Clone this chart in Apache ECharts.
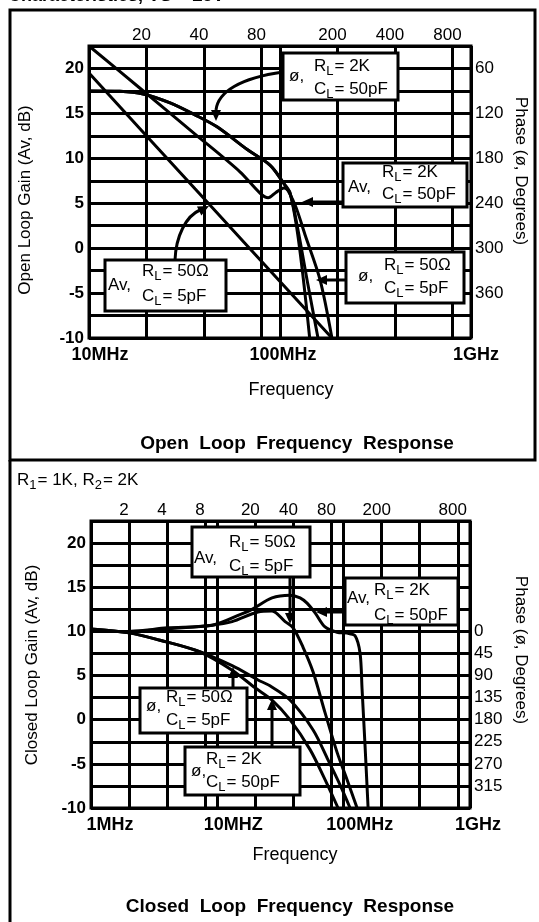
<!DOCTYPE html>
<html>
<head>
<meta charset="utf-8">
<script src="https://cdn.jsdelivr.net/npm/echarts@6/dist/echarts.min.js"></script>
<style>
html,body{margin:0;padding:0;background:#fff;}
#chart{width:539px;height:922px;}
</style>
</head>
<body>
<div id="chart"></div>
<script>
// open loop response (MHz, dB, degrees)
var olFreqAv2k = [10, 18.5, 35.9, 61.7, 78.8, 86.7, 95.2, 104.9, 112.5, 122.9, 133.6, 143];
var olAv2k     = [22.5, 17.8, 12.7, 8.5, 6.1, 5.6, 6.2, 6.7, 6.2, 2.0, -4.1, -10];
var olFreqAv50 = [10, 35.9, 187];
var olAv50     = [19.5, 6.6, -10];
var olFreqPh2k = [10, 14.5, 19.2, 26.6, 35.9, 46.8, 68.0, 88.6, 103.7, 112.5, 124.3, 140.1, 158.1];
var olPh2k     = [90, 90.5, 94, 106, 122, 138, 169, 189, 212, 225, 276, 349, 420];
var olFreqPh50 = [10, 14.5, 19.2, 26.6, 35.9, 46.8, 68.0, 88.6, 103.7, 119.8, 135.2, 162, 187];
var olPh50     = [90, 90.5, 94, 106, 122, 138, 169, 189, 212, 242, 282, 342, 420];

// closed loop response, R1=1K R2=2K
var clFreqAv2k = [1, 2, 4, 9.1, 15.1, 18.8, 27.1, 37.6, 45.2, 51.3, 59.4, 71.2, 88.7, 106.4, 123.1, 134.9, 139.8, 147.7, 156.1];
var clAv2k     = [10.0, 10.0, 10.4, 10.7, 11.9, 12.5, 13.8, 14.1, 13.8, 13.2, 12.1, 10.5, 9.9, 9.8, 9.5, 7.5, 3.5, -3, -10];
var clFreqAv50 = [1, 2, 4, 9.1, 13.1, 21.0, 27.1, 34.4, 39.8, 47.7, 57.3, 71.2, 88.7, 106.4, 127.7];
var clAv50     = [10.0, 10.0, 10.3, 10.7, 11.1, 12.2, 12.3, 11.1, 10.4, 8.2, 5.4, 0.8, -3.7, -6.8, -10];
var clFreqPh50 = [1, 2, 3.52, 6.66, 13.1, 21.0, 26.1, 37.6, 57.3, 75.2, 93.6, 112.4];
var clPh50     = [-5, 3, 18, 38, 70, 99, 111, 140, 201, 262, 313, 360];
var clFreqPh2k = [1, 2, 3.52, 7.3, 13.1, 19.9, 27.1, 37.6, 54.2, 71.2, 90.3];
var clPh2k     = [-5, 3, 18, 42, 79, 115, 140, 180, 241, 302, 360];

// grid / tick values
var olGridFreq  = [10, 20, 40, 80, 100, 200, 400, 800, 1000];
var olTopLabels = [20, 40, 80, 200, 400, 800];
var olBotLabels = [10, 100, 1000];
var clGridFreq  = [1, 2, 4, 8, 10, 20, 40, 80, 100, 200, 400, 800, 1000];
var clTopLabels = [2, 4, 8, 20, 40, 80, 200, 800];
var clBotLabels = [1, 10, 100, 1000];

var font = '"Liberation Sans", Arial, Helvetica, sans-serif';

function pairs(xs, ys) {
    var out = [];
    for (var i = 0; i < xs.length; i++) {
        out.push([xs[i], ys[i]]);
    }
    return out;
}

function curve(name, xi, yi, xs, ys) {
    return {
        name: name, type: 'line', xAxisIndex: xi, yAxisIndex: yi,
        data: pairs(xs, ys), showSymbol: false, smooth: 0.3, silent: true,
        lineStyle: {color: '#000', width: 3}, z: 5
    };
}

function freqAxis(gi, pos, min, max, gridVals, labelVals, fmt, rich, size, weight, margin) {
    return {
        type: 'log', logBase: 10, gridIndex: gi, position: pos, min: min, max: max,
        axisLine: {show: false},
        axisTick: {show: false, customValues: gridVals},
        minorTick: {show: false},
        splitLine: {show: pos === 'bottom', lineStyle: {color: '#000', width: 3}},
        axisLabel: {
            customValues: labelVals, formatter: fmt, rich: rich, margin: margin,
            color: '#000', fontFamily: font, fontSize: size, fontWeight: weight
        }
    };
}

function padRich(list, size, weight) {
    var r = {};
    for (var i = 0; i < list.length; i++) {
        r[list[i][0]] = {padding: list[i][1], fontSize: size, fontWeight: weight, color: '#000', fontFamily: font};
    }
    return r;
}

function gainAxis(gi) {
    return {
        type: 'value', gridIndex: gi, position: 'left', min: -10, max: 22.5, interval: 2.5,
        axisLine: {show: false}, axisTick: {show: false},
        splitLine: {show: true, lineStyle: {color: '#000', width: 3}},
        axisLabel: {
            formatter: function (v) { return (v % 5 === 0 && v <= 20) ? String(v) : ''; },
            color: '#000', fontFamily: font, fontSize: 17, fontWeight: 'bold', margin: 5
        }
    };
}

function phaseAxis(gi, min, max, step, lo, hi, every) {
    return {
        type: 'value', gridIndex: gi, position: 'right', inverse: true, min: min, max: max, interval: step,
        axisLine: {show: false}, axisTick: {show: false}, splitLine: {show: false},
        axisLabel: {
            formatter: function (v) { return (v % every === 0 && v >= lo && v <= hi) ? String(v) : ''; },
            color: '#000', fontFamily: font, fontSize: 17, margin: 4
        }
    };
}

// ---- annotations ----
var subRich = {
    n: {fontSize: 17, fontFamily: font, fill: '#000'},
    s: {fontSize: 13, fontFamily: font, fill: '#000', padding: [10, 1, 0, 0]}
};

function txt(x, y, text, size, opt) {
    opt = opt || {};
    return {
        type: 'text', x: x, y: y, rotation: opt.rot || 0, z: 100,
        style: {
            text: text, fill: '#000', font: (opt.bold ? 'bold ' : '') + size + 'px ' + font,
            align: opt.align || 'left', verticalAlign: 'middle',
            textAlign: opt.align || 'left', textVerticalAlign: 'middle', rich: opt.rich
        }
    };
}

function box(b) {
    return [
        {type: 'rect', z: 99, shape: {x: b.x, y: b.y, width: b.w, height: b.h},
            style: {fill: '#fff', stroke: '#000', lineWidth: 3}},
        txt(b.lx, b.ly, b.lead, 17),
        txt(b.tx, b.ry, '{n|R}{s|L}{n|' + b.r + '}', 17, {rich: subRich}),
        txt(b.tx, b.cy, '{n|C}{s|L}{n|' + b.c + '}', 17, {rich: subRich})
    ];
}

function head(x, y, dx, dy) {
    var len = Math.sqrt(dx * dx + dy * dy);
    dx /= len; dy /= len;
    var L = 11, W = 5;
    return {
        type: 'polygon', z: 101,
        shape: {points: [[x, y], [x - L * dx - W * dy, y - L * dy + W * dx], [x - L * dx + W * dy, y - L * dy - W * dx]]},
        style: {fill: '#000'}
    };
}

function seg(x1, y1, x2, y2) {
    return {type: 'line', z: 100, shape: {x1: x1, y1: y1, x2: x2, y2: y2}, style: {stroke: '#000', lineWidth: 3}};
}

function bez(x1, y1, c1x, c1y, c2x, c2y, x2, y2) {
    return {type: 'bezierCurve', z: 100,
        shape: {x1: x1, y1: y1, cpx1: c1x, cpy1: c1y, cpx2: c2x, cpy2: c2y, x2: x2, y2: y2},
        style: {stroke: '#000', lineWidth: 3, fill: null}};
}

var boxes = [
    {x: 283, y: 53, w: 115, h: 47, lead: 'ø,', lx: 289, ly: 76, r: '= 2K', c: '= 50pF', tx: 314, ry: 66, cy: 89},
    {x: 343, y: 163, w: 124, h: 44, lead: 'Av,', lx: 348, ly: 187, r: '= 2K', c: '= 50pF', tx: 382, ry: 172, cy: 194},
    {x: 105, y: 260, w: 121, h: 51, lead: 'Av,', lx: 108, ly: 285, r: '= 50Ω', c: '= 5pF', tx: 142, ry: 271, cy: 296},
    {x: 346, y: 252, w: 118, h: 51, lead: 'ø,', lx: 358, ly: 276, r: '= 50Ω', c: '= 5pF', tx: 384, ry: 265, cy: 288},
    {x: 192, y: 527, w: 118, h: 50, lead: 'Av,', lx: 194, ly: 558, r: '= 50Ω', c: '= 5pF', tx: 229, ry: 542, cy: 566},
    {x: 345, y: 578, w: 113, h: 47, lead: 'Av,', lx: 347, ly: 598, r: '= 2K', c: '= 50pF', tx: 374, ry: 590, cy: 615},
    {x: 140, y: 688, w: 107, h: 45, lead: 'ø,', lx: 146, ly: 706, r: '= 50Ω', c: '= 5pF', tx: 166, ry: 697, cy: 720},
    {x: 185, y: 747, w: 115, h: 48, lead: 'ø,', lx: 191, ly: 771, r: '= 2K', c: '= 50pF', tx: 206, ry: 759, cy: 782}
];

var graphics = [
    // panel frames
    {type: 'rect', z: 90, shape: {x: 10, y: 10, width: 525, height: 450}, style: {fill: null, stroke: '#000', lineWidth: 3}},
    {type: 'line', z: 90, shape: {x1: 10, y1: 460, x2: 10, y2: 922}, style: {stroke: '#000', lineWidth: 3}},
    txt(8, -4, 'Characteristics, VS = ±5V', 18, {bold: true}),
    // open loop texts
    txt(25, 200, 'Open Loop Gain (Av, dB)', 17, {rot: Math.PI / 2, align: 'center'}),
    txt(521, 171, 'Phase (ø, Degrees)', 17, {rot: -Math.PI / 2, align: 'center'}),
    txt(291, 390, 'Frequency', 18, {align: 'center'}),
    txt(297, 444, 'Open  Loop  Frequency  Response', 19, {bold: true, align: 'center'}),
    // closed loop texts
    txt(17, 480, '{n|R}{s|1}{n|= 1K, R}{s|2}{n|= 2K}', 17, {rich: subRich}),
    txt(32, 665, 'Closed Loop Gain (Av, dB)', 17, {rot: Math.PI / 2, align: 'center'}),
    txt(521, 650, 'Phase (ø, Degrees)', 17, {rot: -Math.PI / 2, align: 'center'}),
    txt(295, 855, 'Frequency', 18, {align: 'center'}),
    txt(290, 907, 'Closed  Loop  Frequency  Response', 19, {bold: true, align: 'center'}),
    // open loop arrows
    bez(283, 72, 240, 78, 218, 92, 216, 110), head(216, 121, 0, 1),
    seg(343, 202, 310, 202), head(302, 202, -1, 0),
    bez(175, 260, 176, 236, 186, 216, 200, 210), head(209, 206, 1, -0.5),
    seg(346, 280, 324, 280), head(316, 280, -1, 0),
    // closed loop arrows
    seg(290, 577, 290, 614), head(290, 624, 0, 1),
    seg(345, 612, 324, 612), head(316, 612, -1, 0),
    seg(233, 688, 233, 676), head(233, 667, 0, -1),
    seg(272, 747, 272, 708), head(272, 699, 0, -1)
];
for (var i = 0; i < boxes.length; i++) {
    graphics = graphics.concat(box(boxes[i]));
}

var olBotRich = padRich([['a', [0, 0, 0, 22]], ['b', [0, 0, 0, 6]], ['c', [0, 0, 0, 10]]], 18, 'bold');
var clBotRich = padRich([['a', [0, 0, 0, 38]], ['b', [0, 0, 0, 32]], ['c', [0, 0, 0, 16]]], 18, 'bold');
var topRich = padRich([['t', [0, 10, 0, 0]]], 17, 'normal');

var option = {
    animation: false,
    backgroundColor: '#fff',
    textStyle: {fontFamily: font},
    grid: [
        {left: 89, top: 46, width: 382, height: 292, show: true, borderColor: '#000', borderWidth: 3},
        {left: 91, top: 521, width: 379, height: 287, show: true, borderColor: '#000', borderWidth: 3}
    ],
    xAxis: [
        freqAxis(0, 'bottom', 10, 1000, olGridFreq, olBotLabels, function (v) {
            if (v == 10) return '{a|10MHz}';
            if (v == 100) return '{b|100MHz}';
            return '{c|1GHz}';
        }, olBotRich, 18, 'bold', 8),
        freqAxis(0, 'top', 10, 1000, olGridFreq, olTopLabels, function (v) {
            return '{t|' + v + '}';
        }, topRich, 17, 'normal', 2),
        freqAxis(1, 'bottom', 1, 1000, clGridFreq, clBotLabels, function (v) {
            if (v == 1) return '{a|1MHz}';
            if (v == 10) return '{b|10MHZ}';
            if (v == 100) return '{b|100MHz}';
            return '{c|1GHz}';
        }, clBotRich, 18, 'bold', 8),
        freqAxis(1, 'top', 1, 1000, clGridFreq, clTopLabels, function (v) {
            return '{t|' + v + '}';
        }, topRich, 17, 'normal', 2)
    ],
    yAxis: [
        gainAxis(0),
        phaseAxis(0, 30, 420, 30, 60, 360, 60),
        gainAxis(1),
        phaseAxis(1, -225, 360, 45, 0, 315, 45)
    ],
    series: [
        curve('Av RL=2K', 0, 0, olFreqAv2k, olAv2k),
        curve('Av RL=50', 0, 0, olFreqAv50, olAv50),
        curve('Phase RL=2K', 0, 1, olFreqPh2k, olPh2k),
        curve('Phase RL=50', 0, 1, olFreqPh50, olPh50),
        curve('CL Av RL=2K', 2, 2, clFreqAv2k, clAv2k),
        curve('CL Av RL=50', 2, 2, clFreqAv50, clAv50),
        curve('CL Phase RL=50', 2, 3, clFreqPh50, clPh50),
        curve('CL Phase RL=2K', 2, 3, clFreqPh2k, clPh2k)
    ],
    graphic: {elements: graphics}
};

var chart = echarts.init(document.getElementById('chart'));
chart.setOption(option);
</script>
</body>
</html>
